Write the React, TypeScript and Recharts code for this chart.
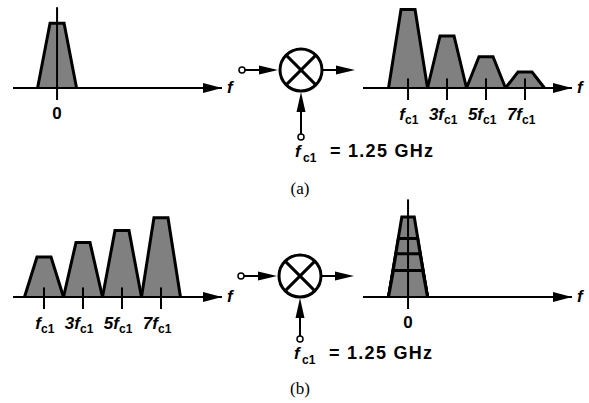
import React from "react";
import { ComposedChart, Area, XAxis, YAxis, ReferenceLine, ReferenceDot } from "recharts";

// frequencies are in units of f_c1, amplitudes relative (1 = tallest band)
const harmonics = [1, 3, 5, 7];
const harmonicLabels = ["f", "3f", "5f", "7f"];
const baseband = [0];
const basebandLabels = ["0"];

const inputA = [0.81]; // (a) baseband input
const outputA = [0.98, 0.65, 0.39, 0.2]; // (a) translated to the odd harmonics
const inputB = [0.5, 0.68, 0.83, 0.99]; // (b) bands around the odd harmonics
const outputB = [1.0, 0.73, 0.54, 0.33]; // (b) all folded down to 0

const BAND = 1.0; // half bandwidth at the base
const TOP = 0.36; // half bandwidth at the top

const LO_TEXT = "= 1.25 GHz";
const SANS = "'Liberation Sans', Arial, Helvetica, sans-serif";
const SERIF = "'Liberation Serif', 'Times New Roman', serif";
const GRAY = "#808080";

const PLOT_W = 209;
const PLOT_H = 100;
const Y_MAX = 1.25;
const M = { top: 4, right: 34, bottom: 14, left: 6 };

function buildRows(centers: number[], heights: number[], tops: number[]) {
  const rows: Record<string, number>[] = [];
  centers.forEach((c, i) => {
    const k = `t${i}`;
    rows.push({ x: c - BAND, [k]: 0 });
    rows.push({ x: c - tops[i], [k]: heights[i] });
    rows.push({ x: c + tops[i], [k]: heights[i] });
    rows.push({ x: c + BAND, [k]: 0 });
  });
  return rows;
}

interface SpecProps {
  left: number;
  axisY: number;
  domain: [number, number];
  centers: number[];
  heights: number[];
  nested?: boolean;
  ticks: number[];
  labels: string[];
  zeroLineTop?: number;
}

function Spectrum({ left, axisY, domain, centers, heights, nested, ticks, labels, zeroLineTop }: SpecProps) {
  const hMax = Math.max(...heights);
  // nested bands share the outer band's sides
  const tops = heights.map((h) => (nested ? BAND - ((BAND - TOP) * h) / hMax - 0.04 : TOP));
  const rows = buildRows(centers, heights, tops);
  const isBase = zeroLineTop !== undefined;

  const renderTick = (p: any) => {
    const i = ticks.indexOf(p.payload.value);
    const lab = labels[i];
    if (isBase) {
      return (
        <text x={p.x} y={p.y + 31} textAnchor="middle" fontFamily={SANS} fontWeight={700} fontSize={17}>
          {lab}
        </text>
      );
    }
    return (
      <g>
        <text x={p.x - 3} y={p.y + 32} textAnchor="end" fontFamily={SANS} fontWeight={700} fontStyle="italic" fontSize={17}>
          {lab}
        </text>
        <text x={p.x - 3} y={p.y + 36} fontFamily={SANS} fontWeight={700} fontSize={12}>
          c1
        </text>
      </g>
    );
  };

  return (
    <div style={{ position: "absolute", left: left - M.left, top: axisY - PLOT_H - M.top }}>
      <ComposedChart
        width={PLOT_W + M.left + M.right}
        height={PLOT_H + M.top + M.bottom + 30}
        data={rows}
        margin={M}
      >
        <YAxis type="number" domain={[0, Y_MAX]} hide />
        {centers.map((_, i) => (
          <Area
            key={i}
            type="linear"
            dataKey={`t${i}`}
            stroke="#000"
            strokeWidth={3}
            fill={GRAY}
            fillOpacity={1}
            connectNulls
            dot={false}
            activeDot={false}
            isAnimationActive={false}
          />
        ))}
        <XAxis
          type="number"
          dataKey="x"
          domain={domain}
          allowDataOverflow
          ticks={ticks}
          interval={0}
          height={30}
          axisLine={{ stroke: "#000", strokeWidth: 2 }}
          tickLine={false}
          tickSize={0}
          tickMargin={0}
          tick={renderTick}
        />
        {!isBase &&
          ticks.map((t) => (
            <ReferenceLine
              key={t}
              segment={[{ x: t, y: -0.15 }, { x: t, y: 0.12 }]}
              stroke="#000"
              strokeWidth={2}
              ifOverflow="visible"
            />
          ))}
        {isBase && (
          <ReferenceLine
            segment={[{ x: 0, y: -0.15 }, { x: 0, y: zeroLineTop }]}
            stroke="#000"
            strokeWidth={2}
            ifOverflow="visible"
          />
        )}
        <ReferenceDot
          x={domain[1]}
          y={0}
          ifOverflow="visible"
          shape={(p: any) => (
            <g>
              <polygon points={`${p.cx},${p.cy} ${p.cx - 19},${p.cy - 5} ${p.cx - 19},${p.cy + 5}`} fill="#000" />
              <text x={p.cx + 5} y={p.cy + 5} fontFamily={SANS} fontWeight={700} fontStyle="italic" fontSize={17}>
                f
              </text>
            </g>
          )}
        />
      </ComposedChart>
    </div>
  );
}

function Mixer({ cx, cy, loY }: { cx: number; cy: number; loY: number }) {
  const r = 21;
  const d = r * 0.7071;
  return (
    <g>
      <line x1={cx - 56} y1={cy} x2={cx - 40} y2={cy} stroke="#000" strokeWidth={2} />
      <polygon points={`${cx - 42},${cy - 4.5} ${cx - 23},${cy} ${cx - 42},${cy + 4.5}`} fill="#000" />
      <circle cx={cx - 59} cy={cy} r={3} fill="#fff" stroke="#000" strokeWidth={1.5} />
      <circle cx={cx} cy={cy} r={r} fill="#fff" stroke="#000" strokeWidth={3} />
      <line x1={cx - d} y1={cy - d} x2={cx + d} y2={cy + d} stroke="#000" strokeWidth={3} />
      <line x1={cx - d} y1={cy + d} x2={cx + d} y2={cy - d} stroke="#000" strokeWidth={3} />
      <line x1={cx + r} y1={cy} x2={cx + 38} y2={cy} stroke="#000" strokeWidth={2} />
      <polygon points={`${cx + 35},${cy - 4.5} ${cx + 54},${cy} ${cx + 35},${cy + 4.5}`} fill="#000" />
      <polygon points={`${cx},${cy + r + 1} ${cx - 4.5},${cy + r + 21} ${cx + 4.5},${cy + r + 21}`} fill="#000" />
      <line x1={cx} y1={cy + r + 19} x2={cx} y2={loY - 3} stroke="#000" strokeWidth={2} />
      <circle cx={cx} cy={loY} r={3} fill="#fff" stroke="#000" strokeWidth={1.5} />
      <text x={cx - 6} y={loY + 20} fontFamily={SANS} fontWeight={700} fontStyle="italic" fontSize={17}>
        f
      </text>
      <text x={cx + 2} y={loY + 25} fontFamily={SANS} fontWeight={700} fontSize={12}>
        c1
      </text>
      <text x={cx + 29} y={loY + 20} fontFamily={SANS} fontWeight={700} fontSize={18} textLength={103} lengthAdjust="spacing">
        {LO_TEXT}
      </text>
    </g>
  );
}

export default function App() {
  return (
    <div style={{ position: "absolute", left: 0, top: 0, width: 589, height: 403, background: "#fff", overflow: "hidden" }}>
      <Spectrum left={13} axisY={88} domain={[-2.26, 8.46]} centers={baseband} heights={inputA} ticks={baseband} labels={basebandLabels} zeroLineTop={1.01} />
      <Spectrum left={363} axisY={88} domain={[-1.31, 9.41]} centers={harmonics} heights={outputA} ticks={harmonics} labels={harmonicLabels} />
      <Spectrum left={13} axisY={297} domain={[-0.59, 10.13]} centers={harmonics} heights={inputB} ticks={harmonics} labels={harmonicLabels} />
      <Spectrum
        left={363}
        axisY={297}
        domain={[-2.31, 8.41]}
        centers={outputB.map(() => 0)}
        heights={outputB}
        nested
        ticks={baseband}
        labels={basebandLabels}
        zeroLineTop={1.22}
      />
      <svg width={589} height={403} style={{ position: "absolute", left: 0, top: 0, pointerEvents: "none" }}>
        <Mixer cx={301} cy={70} loY={137} />
        <Mixer cx={300} cy={276} loY={339} />
        <text x={300} y={194} textAnchor="middle" fontFamily={SERIF} fontSize={17}>(a)</text>
        <text x={300} y={394} textAnchor="middle" fontFamily={SERIF} fontSize={17}>(b)</text>
      </svg>
    </div>
  );
}
